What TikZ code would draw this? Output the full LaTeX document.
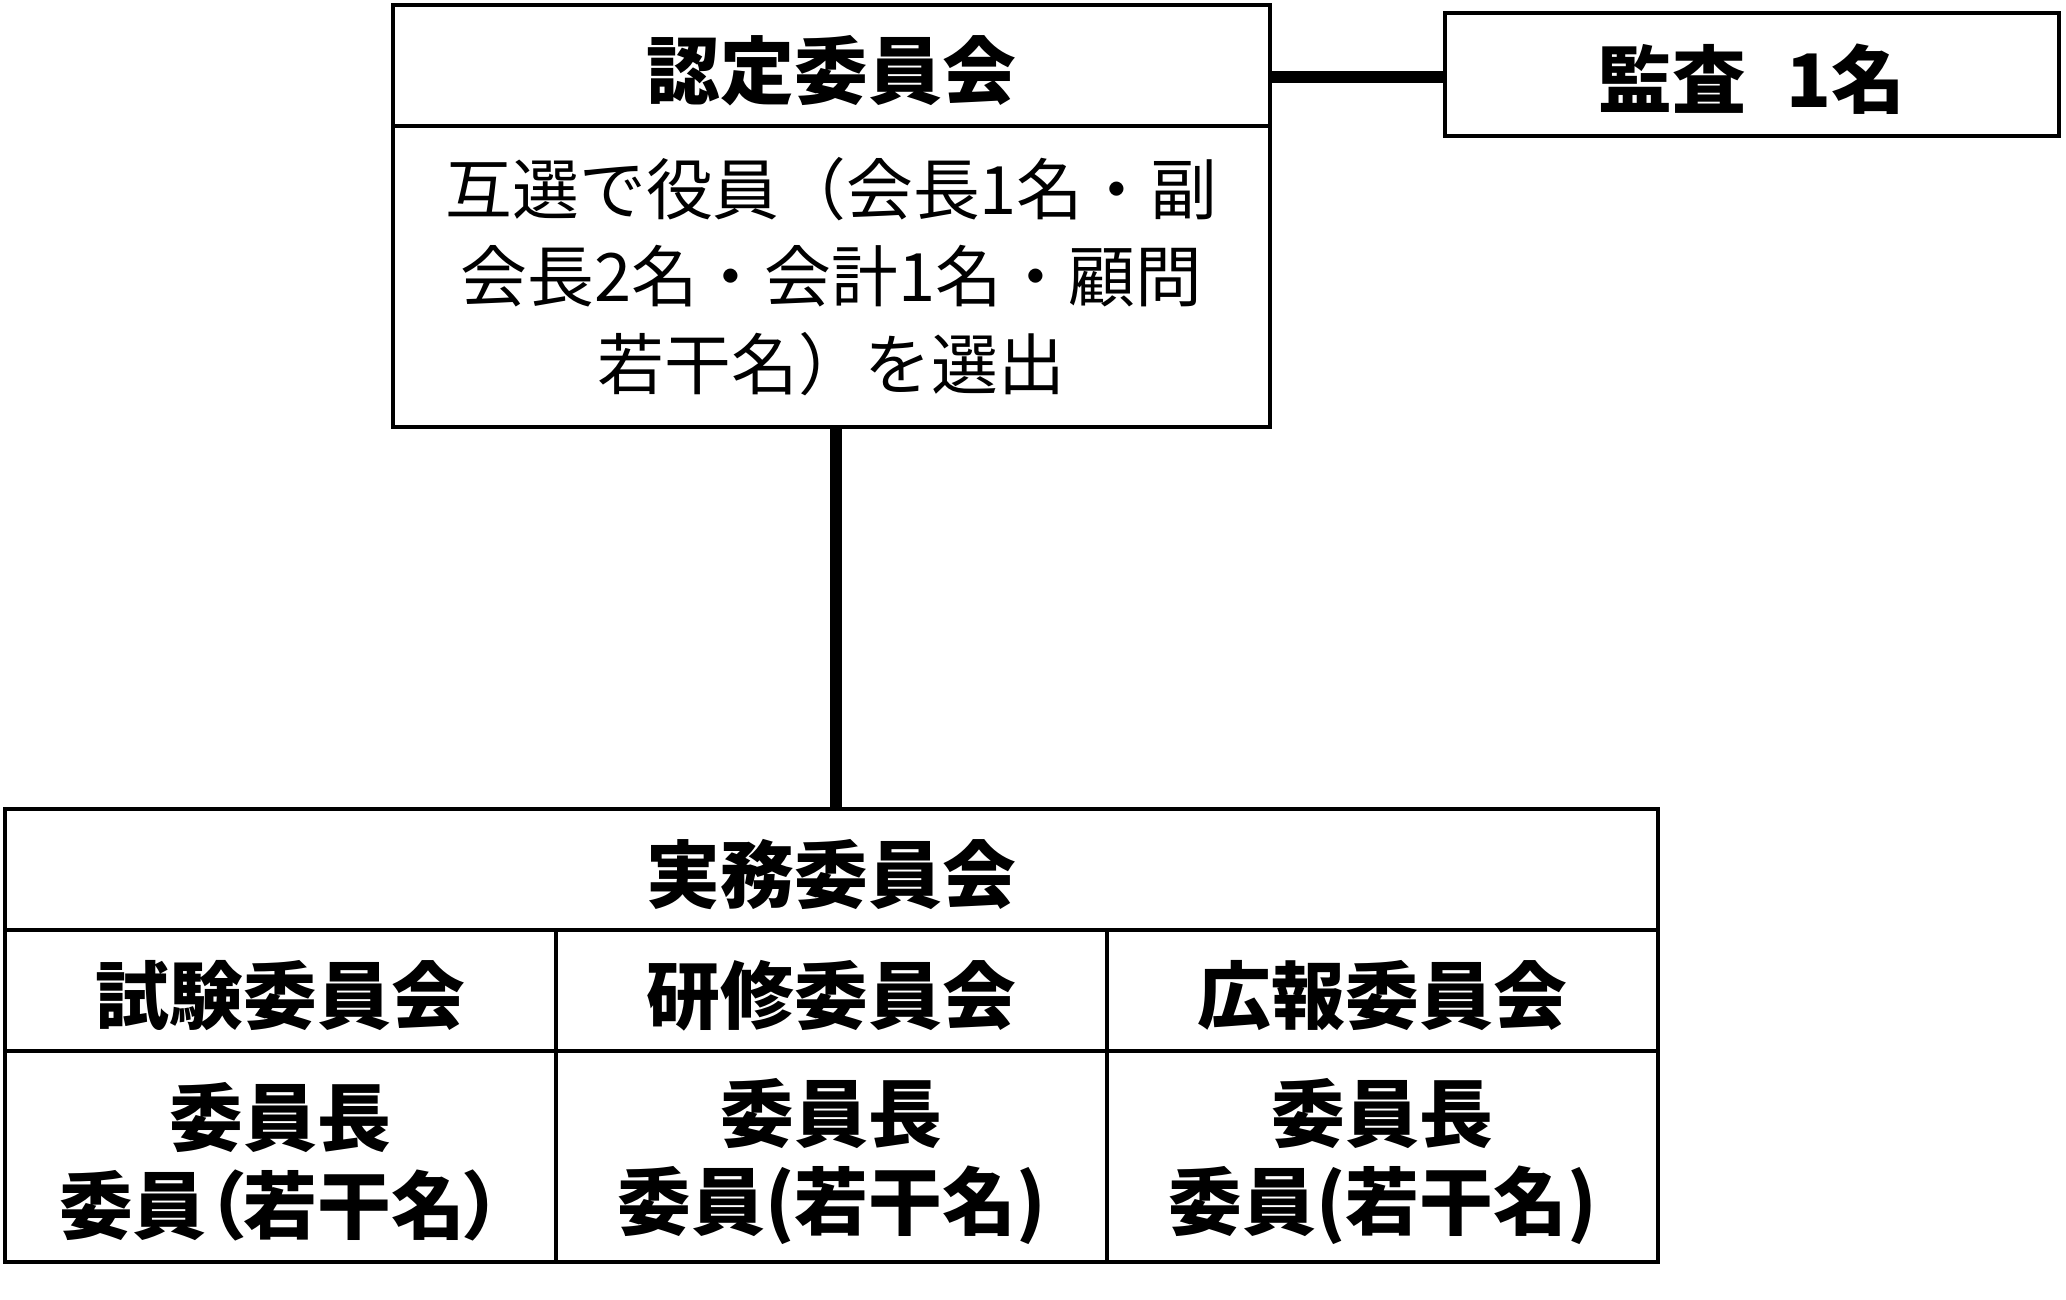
\documentclass[tikz,border=0pt]{standalone}
\usepackage{fontspec}
\setmainfont{Noto Sans CJK JP}
\usetikzlibrary{positioning}

\begin{document}
\begin{tikzpicture}[
    box/.style={rectangle, draw, line width=1.2pt, inner sep=0pt, outer sep=0pt, align=center, text height=21pt, font=\bfseries\fontsize{21}{25}\selectfont},
    cell/.style={box, minimum width=5.51cm, minimum height=1.21cm},
    member/.style={cell, minimum height=2.11cm, text height=46pt},
    link/.style={line width=3.4pt}
]
\useasboundingbox (0,0) rectangle (20.66,-13);

% upper committee
\node[box, minimum width=8.77cm, minimum height=1.21cm, anchor=north west] (nintei) at (3.93,-0.05) {認定委員会};
\node[box, minimum width=8.77cm, minimum height=3.01cm, below=0pt of nintei, text height={}, font=\fontsize{19}{25}\selectfont] (yakuin) {互選で役員（会長1名・副\\会長2名・会計1名・顧問\\若干名）を選出};
\node[box, minimum width=6.14cm, minimum height=1.23cm, anchor=north west] (kansa) at (14.45,-0.13) {監査\hspace{0.55em}1名};

% working committee
\node[box, minimum width=16.53cm, minimum height=1.21cm, anchor=north west] (jitsumu) at (0.05,-8.09) {実務委員会};
\node[cell, below right=0pt of jitsumu.south west] (shiken) {試験委員会};
\node[cell, right=0pt of shiken] (kenshu) {研修委員会};
\node[cell, right=0pt of kenshu] (koho) {広報委員会};
\node[member, below=0pt of shiken] (shikenmem) {委員長\\\addfontfeature{RawFeature=+palt}委員（若干名）};
\node[member, below=0pt of kenshu] (kenshumem) {委員長\\委員(若干名)};
\node[member, below=0pt of koho] (kohomem) {委員長\\委員(若干名)};

\draw[link] ([yshift=-0.025cm]kansa.west) -- ([yshift=-0.025cm]kansa.west -| nintei.east);
\draw[link] ([xshift=0.045cm]yakuin.south) -- ([xshift=0.045cm]jitsumu.north);
\end{tikzpicture}
\end{document}
